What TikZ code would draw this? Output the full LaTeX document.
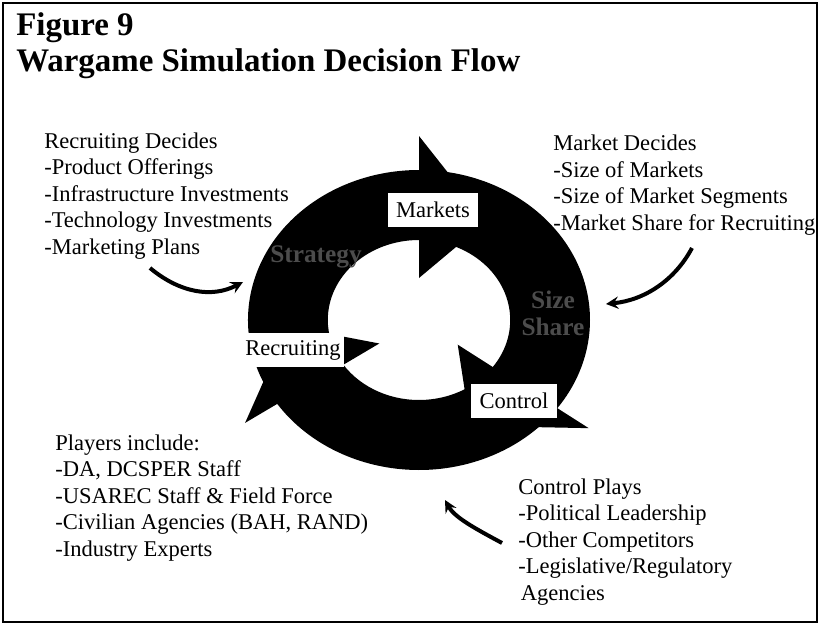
\documentclass[tikz,border=0pt]{standalone}
\usepackage{fontspec}
\setmainfont{Liberation Serif}
\usepackage{tikz}
\usetikzlibrary{arrows}
\tikzstyle{txt}=[anchor=base west,align=left,inner sep=0pt,font=\fontsize{16.9}{19.8}\selectfont]
\tikzstyle{heading}=[anchor=base west,align=left,inner sep=0pt,font=\fontsize{24.7}{26.3}\selectfont\bfseries]
\tikzstyle{stage}=[fill=white,inner xsep=2pt,minimum height=25pt,font=\fontsize{16.9}{19.8}\selectfont]
\tikzstyle{faint}=[text=gray!60!black,align=center,font=\fontsize{19}{20}\selectfont\bfseries]
\tikzstyle{pointer}=[->,>=stealth,line width=3pt]

\begin{document}
\begin{tikzpicture}[x=0.75pt,y=-0.75pt]
    \useasboundingbox (0,0) rectangle (819,625);
    \draw[line width=1.2pt] (3,3) rectangle (817,622);

    % cycle of three arrows
    \begin{scope}[shift={(419,320)},xscale=1.14,yscale=-1]
        \fill (214:150) arc[start angle=214,end angle=90,radius=150]
            -- (90:184) -- (59:115) -- (90:42) -- (90:80)
            arc[start angle=90,end angle=214,radius=80] -- cycle;
        \fill (90:150) arc[start angle=90,end angle=-36,radius=150]
            -- (-36:184) -- (-67:115) -- (-36:42) -- (-36:80)
            arc[start angle=-36,end angle=90,radius=80] -- cycle;
        \fill (-36:150) arc[start angle=-36,end angle=-146,radius=150]
            -- (-146:184) -- (-177:115) -- (-146:42) -- (-146:80)
            arc[start angle=-146,end angle=-36,radius=80] -- cycle;
    \end{scope}

    \node[faint] (strategy) at (316,257) {Strategy};
    \node[faint] (size) at (553,313) {Size\\Share};

    \node[stage,minimum width=67pt] (markets) at (433,210) {Markets};
    \node[stage,minimum width=77pt] (recruiting) at (293,350) {Recruiting};
    \node[stage,minimum width=64pt] (control) at (514,401) {Control};

    % multi-line nodes sit on the baseline of their last line
    \node[heading] (title) at (16,71) {Figure 9\\Wargame Simulation Decision Flow};

    \node[txt] (recdecides) at (44,254) {Recruiting Decides\\-Product Offerings\\-Infrastructure Investments\\-Technology Investments\\-Marketing Plans};
    \node[txt] (mktdecides) at (553,230) {Market Decides\\-Size of Markets\\-Size of Market Segments\\-Market Share for Recruiting};
    \node[txt] (players) at (55,556) {Players include:\\-DA, DCSPER Staff\\-USAREC Staff \& Field Force\\-Civilian Agencies (BAH, RAND)\\-Industry Experts};
    \node[txt] (ctlplays) at (518,600) {Control Plays\\-Political Leadership\\-Other Competitors\\-Legislative/Regulatory\\\hspace{2pt}Agencies};

    % pointers from the notes to the cycle
    \coordinate (recTail) at (150,268);
    \coordinate (recHead) at (243,282);
    \draw[pointer] (recTail) .. controls (180,293) and (212,298) .. (recHead);
    \coordinate (mktTail) at (692,248);
    \coordinate (mktHead) at (606,304);
    \draw[pointer] (mktTail) .. controls (675,280) and (645,300) .. (mktHead);
    \coordinate (ctlTail) at (502,543);
    \coordinate (ctlHead) at (445,500);
    \draw[pointer] (ctlTail) .. controls (478,530) and (455,518) .. (ctlHead);
\end{tikzpicture}
\end{document}
